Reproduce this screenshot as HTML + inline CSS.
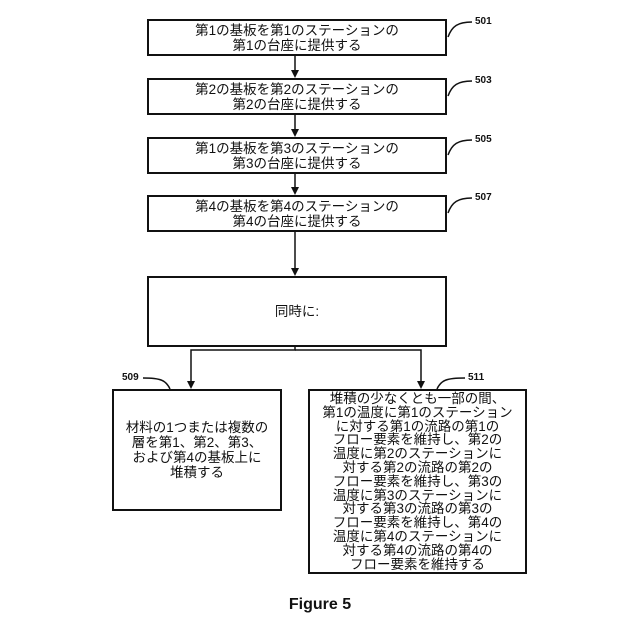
<!DOCTYPE html>
<html><head><meta charset="utf-8"><style>
body{margin:0;background:#fff;}
.w{position:relative;width:640px;height:640px;font-family:"Liberation Sans","Noto Sans CJK JP",sans-serif;color:#111;}
.b{position:absolute;border:2px solid #111;box-sizing:border-box;display:flex;align-items:center;justify-content:center;text-align:center;font-size:13.5px;line-height:15px;}
.l{position:absolute;font-size:10px;font-weight:bold;}
</style></head><body><div class="w">
<svg width="640" height="640" style="position:absolute;left:0;top:0">
<g stroke="#111" stroke-width="1.5" fill="none">
<line x1="295" y1="55" x2="295" y2="72"/>
<line x1="295" y1="114" x2="295" y2="131"/>
<line x1="295" y1="173" x2="295" y2="189"/>
<line x1="295" y1="231" x2="295" y2="270"/>
<polyline points="295,346 295,350 191,350 191,383"/>
<polyline points="295,350 421,350 421,383"/>
<path d="M448,37 C452,26 458,22 472,22"/>
<path d="M448,96 C452,85 458,81 472,81"/>
<path d="M448,155 C452,144 458,140 472,140"/>
<path d="M448,213 C452,202 458,198 472,198"/>
<path d="M143,378 C160,378 166,380 170,389"/>
<path d="M437,389 C441,380 447,378 465,378"/>
</g>
<g fill="#111">
<path d="M291,70 L299,70 L295,78z"/>
<path d="M291,129 L299,129 L295,137z"/>
<path d="M291,187 L299,187 L295,195z"/>
<path d="M291,268 L299,268 L295,276z"/>
<path d="M187,381 L195,381 L191,389z"/>
<path d="M417,381 L425,381 L421,389z"/>
</g></svg>
<div class="b" style="left:147px;top:19px;width:300px;height:37px">第1の基板を第1のステーションの<br>第1の台座に提供する</div>
<div class="b" style="left:147px;top:78px;width:300px;height:37px">第2の基板を第2のステーションの<br>第2の台座に提供する</div>
<div class="b" style="left:147px;top:137px;width:300px;height:37px">第1の基板を第3のステーションの<br>第3の台座に提供する</div>
<div class="b" style="left:147px;top:195px;width:300px;height:37px">第4の基板を第4のステーションの<br>第4の台座に提供する</div>
<div class="b" style="left:147px;top:276px;width:300px;height:71px">同時に:</div>
<div class="b" style="left:112px;top:389px;width:170px;height:122px">材料の1つまたは複数の<br>層を第1、第2、第3、<br>および第4の基板上に<br>堆積する</div>
<div class="b" style="left:308px;top:389px;width:219px;height:185px;line-height:13.8px;align-items:flex-start;padding-top:1px">堆積の少なくとも一部の間、<br>第1の温度に第1のステーション<br>に対する第1の流路の第1の<br>フロー要素を維持し、第2の<br>温度に第2のステーションに<br>対する第2の流路の第2の<br>フロー要素を維持し、第3の<br>温度に第3のステーションに<br>対する第3の流路の第3の<br>フロー要素を維持し、第4の<br>温度に第4のステーションに<br>対する第4の流路の第4の<br>フロー要素を維持する</div>
<div class="l" style="left:475px;top:16px">501</div>
<div class="l" style="left:475px;top:75px">503</div>
<div class="l" style="left:475px;top:134px">505</div>
<div class="l" style="left:475px;top:192px">507</div>
<div class="l" style="left:122px;top:372px">509</div>
<div class="l" style="left:468px;top:372px">511</div>
<div style="position:absolute;left:0;width:640px;top:596px;text-align:center;font-size:16px;font-weight:bold">Figure 5</div>
</div></body></html>
